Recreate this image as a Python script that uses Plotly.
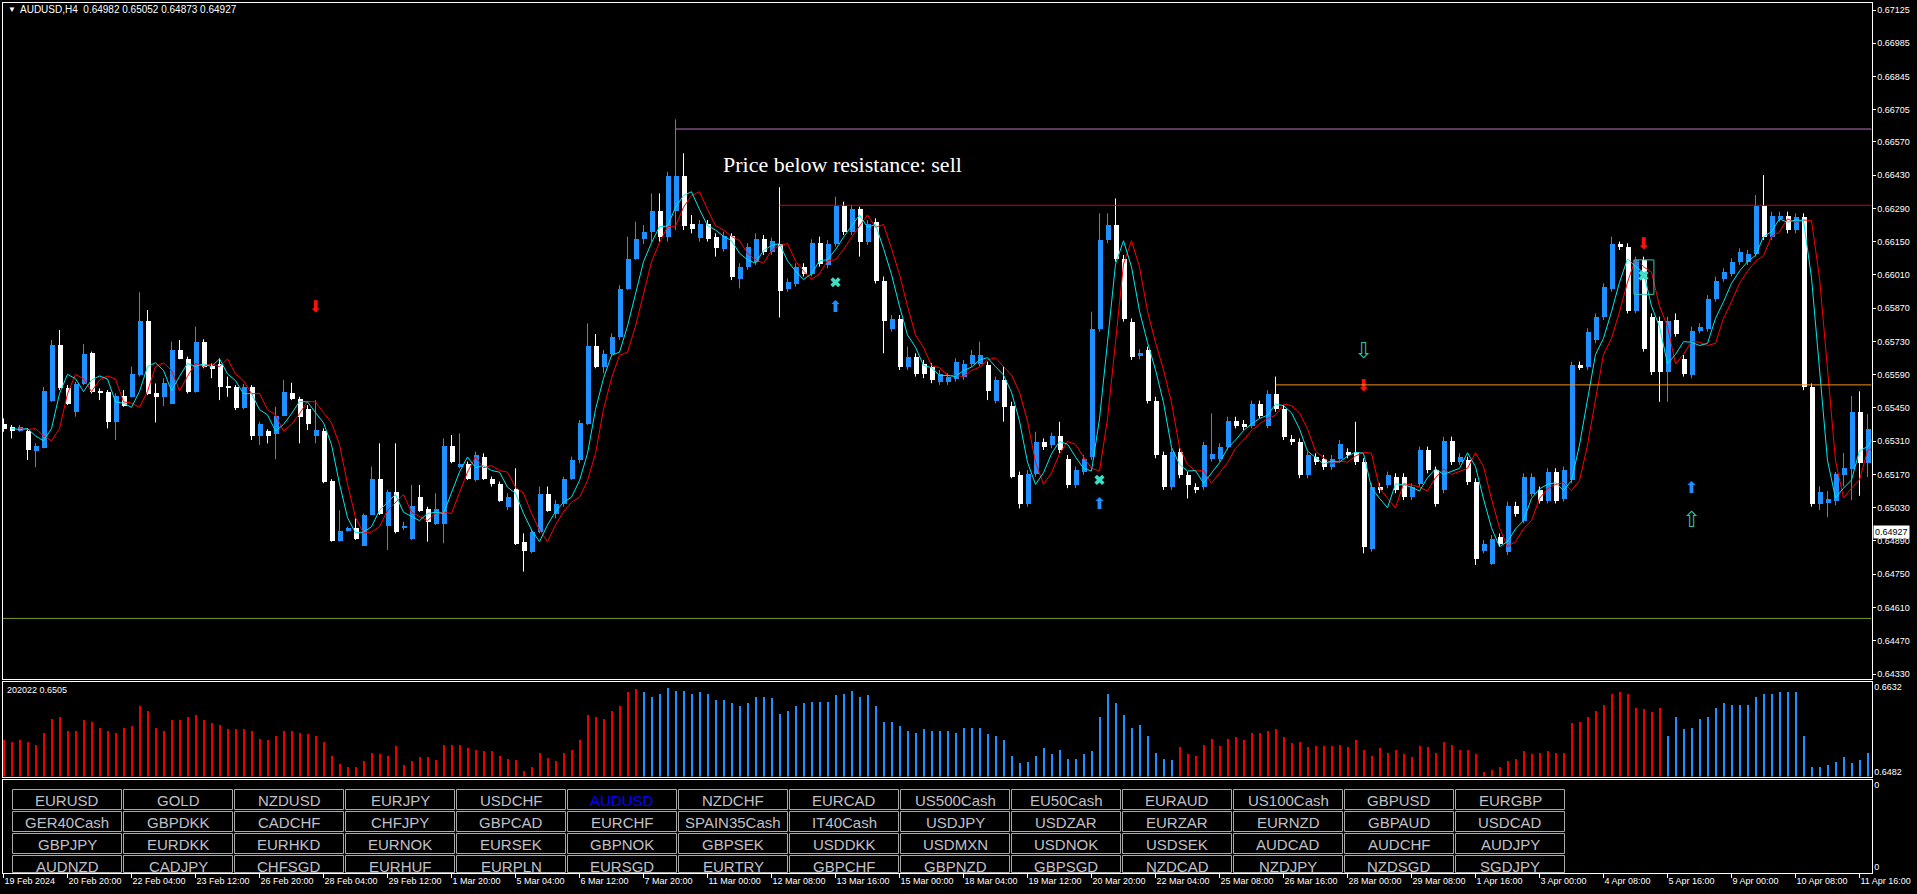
import numpy as np
import pandas as pd
import plotly.graph_objects as go

# ---------------- DATA ----------------
symbol_title = "AUDUSD,H4"
header_ohlc = ["0.64982", "0.65052", "0.64873", "0.64927"]
last_price = 0.64927
indicator_title = "202022 0.6505"

opens = [
    0.65385, 0.65371, 0.65354, 0.65357, 0.65270, 0.65284, 0.65483, 0.65715, 0.65537, 0.65434,
    0.65553, 0.65683, 0.65525, 0.65521, 0.65392, 0.65504, 0.65500, 0.65591, 0.65816, 0.65514,
    0.65497, 0.65469, 0.65697, 0.65659, 0.65518, 0.65729, 0.65627, 0.65638, 0.65545, 0.65542,
    0.65451, 0.65542, 0.65336, 0.65354, 0.65343, 0.65420, 0.65514, 0.65490, 0.65448, 0.65336,
    0.65357, 0.65143, 0.64890, 0.64933, 0.64946, 0.64873, 0.65002, 0.65154, 0.64957, 0.65098,
    0.64950, 0.64901, 0.65077, 0.65027, 0.64964, 0.64964, 0.65290, 0.65203, 0.65217, 0.65147,
    0.65245, 0.65154, 0.65133, 0.65034, 0.65112, 0.64887, 0.64845, 0.64929, 0.65091, 0.65006,
    0.65048, 0.65154, 0.65231, 0.65385, 0.65711, 0.65624, 0.65680, 0.65750, 0.65953, 0.66080,
    0.66164, 0.66192, 0.66283, 0.66171, 0.66280, 0.66430, 0.66227, 0.66167, 0.66227, 0.66171,
    0.66122, 0.66174, 0.65995, 0.66045, 0.66066, 0.66164, 0.66108, 0.66143, 0.65953, 0.65974,
    0.66045, 0.66017, 0.66146, 0.66052, 0.66143, 0.66304, 0.66192, 0.66290, 0.66150, 0.66234,
    0.65988, 0.65785, 0.65827, 0.65624, 0.65666, 0.65638, 0.65624, 0.65561, 0.65561, 0.65575,
    0.65582, 0.65638, 0.65638, 0.65631, 0.65483, 0.65568, 0.65462, 0.65168, 0.65048, 0.65175,
    0.65308, 0.65294, 0.65332, 0.65238, 0.65126, 0.65182, 0.65245, 0.65785, 0.66157, 0.66224,
    0.66080, 0.65813, 0.65669, 0.65694, 0.65483, 0.65252, 0.65119, 0.65266, 0.65168, 0.65119,
    0.65119, 0.65238, 0.65238, 0.65287, 0.65399, 0.65385, 0.65378, 0.65467, 0.65378, 0.65511,
    0.65448, 0.65322, 0.65308, 0.65168, 0.65245, 0.65238, 0.65203, 0.65238, 0.65266, 0.65266,
    0.65224, 0.64859, 0.65119, 0.65126, 0.65161, 0.65161, 0.65077, 0.65133, 0.65273, 0.65189,
    0.65105, 0.65315, 0.65224, 0.65231, 0.65140, 0.64852, 0.64796, 0.64908, 0.64845, 0.65041,
    0.64978, 0.65091, 0.65105, 0.65062, 0.65182, 0.65069, 0.65147, 0.65631, 0.65624, 0.65736,
    0.65834, 0.65953, 0.66143, 0.66129, 0.65862, 0.66073, 0.65834, 0.65820, 0.65603, 0.65823,
    0.65659, 0.65589, 0.65778, 0.65785, 0.65911, 0.65995, 0.66017, 0.66066, 0.66066, 0.66101,
    0.66304, 0.66171, 0.66248, 0.66262, 0.66199, 0.66255, 0.65539, 0.65048, 0.65050, 0.65062,
    0.65168, 0.65197, 0.65437, 0.65222,
]
highs = [
    0.65406, 0.65378, 0.65378, 0.65364, 0.65301, 0.65539, 0.65736, 0.65778, 0.65546, 0.65560,
    0.65719, 0.65687, 0.65532, 0.65525, 0.65511, 0.65525, 0.65624, 0.65937, 0.65862, 0.65553,
    0.65575, 0.65729, 0.65736, 0.65666, 0.65792, 0.65739, 0.65638, 0.65659, 0.65582, 0.65546,
    0.65551, 0.65546, 0.65392, 0.65360, 0.65455, 0.65568, 0.65556, 0.65497, 0.65462, 0.65483,
    0.65364, 0.65150, 0.65020, 0.64950, 0.64985, 0.65006, 0.65203, 0.65301, 0.65105, 0.65301,
    0.64971, 0.65126, 0.65126, 0.65034, 0.65091, 0.65322, 0.65336, 0.65343, 0.65224, 0.65266,
    0.65259, 0.65161, 0.65140, 0.65091, 0.65196, 0.64922, 0.64936, 0.65119, 0.65119, 0.65062,
    0.65161, 0.65245, 0.65399, 0.65806, 0.65761, 0.65694, 0.65764, 0.65967, 0.66171, 0.66234,
    0.66220, 0.66353, 0.66353, 0.66444, 0.66665, 0.66522, 0.66262, 0.66241, 0.66241, 0.66185,
    0.66192, 0.66185, 0.66059, 0.66143, 0.66185, 0.66178, 0.66167, 0.66379, 0.65995, 0.66059,
    0.66059, 0.66160, 0.66171, 0.66157, 0.66339, 0.66318, 0.66304, 0.66297, 0.66241, 0.66248,
    0.66003, 0.65841, 0.65841, 0.65708, 0.65680, 0.65652, 0.65638, 0.65610, 0.65596, 0.65659,
    0.65652, 0.65694, 0.65729, 0.65645, 0.65582, 0.65624, 0.65476, 0.65182, 0.65189, 0.65350,
    0.65322, 0.65346, 0.65392, 0.65252, 0.65203, 0.65252, 0.65855, 0.66269, 0.66269, 0.66332,
    0.66094, 0.65827, 0.65697, 0.65708, 0.65497, 0.65266, 0.65280, 0.65280, 0.65182, 0.65133,
    0.65308, 0.65427, 0.65301, 0.65413, 0.65413, 0.65399, 0.65481, 0.65481, 0.65525, 0.65582,
    0.65462, 0.65336, 0.65322, 0.65266, 0.65259, 0.65252, 0.65252, 0.65315, 0.65280, 0.65392,
    0.65238, 0.65133, 0.65133, 0.65182, 0.65175, 0.65175, 0.65133, 0.65287, 0.65287, 0.65203,
    0.65329, 0.65329, 0.65259, 0.65245, 0.65154, 0.64894, 0.64915, 0.64922, 0.65055, 0.65055,
    0.65175, 0.65175, 0.65119, 0.65196, 0.65196, 0.65203, 0.65645, 0.65645, 0.65785, 0.65848,
    0.65974, 0.66171, 0.66150, 0.66143, 0.66087, 0.66087, 0.65848, 0.65834, 0.65834, 0.65848,
    0.65673, 0.65792, 0.65806, 0.65925, 0.66003, 0.66038, 0.66080, 0.66122, 0.66115, 0.66346,
    0.66430, 0.66276, 0.66276, 0.66276, 0.66269, 0.66269, 0.65553, 0.65120, 0.65100, 0.65180,
    0.65260, 0.65500, 0.65520, 0.65424,
]
lows = [
    0.65350, 0.65322, 0.65350, 0.65231, 0.65200, 0.65280, 0.65476, 0.65525, 0.65462, 0.65413,
    0.65546, 0.65511, 0.65483, 0.65364, 0.65315, 0.65455, 0.65494, 0.65582, 0.65504, 0.65389,
    0.65458, 0.65466, 0.65655, 0.65511, 0.65514, 0.65617, 0.65575, 0.65483, 0.65497, 0.65441,
    0.65444, 0.65315, 0.65294, 0.65301, 0.65234, 0.65416, 0.65483, 0.65301, 0.65357, 0.65301,
    0.65133, 0.64887, 0.64887, 0.64929, 0.64894, 0.64869, 0.64999, 0.64999, 0.64852, 0.64922,
    0.64936, 0.64894, 0.65013, 0.64887, 0.64957, 0.64880, 0.65217, 0.65196, 0.65147, 0.65140,
    0.65147, 0.65119, 0.65055, 0.65020, 0.64873, 0.64761, 0.64838, 0.64922, 0.65013, 0.64985,
    0.65034, 0.65147, 0.65217, 0.65378, 0.65617, 0.65596, 0.65666, 0.65736, 0.65946, 0.66073,
    0.66140, 0.66150, 0.66150, 0.66150, 0.66199, 0.66199, 0.66185, 0.66150, 0.66150, 0.66087,
    0.66108, 0.65988, 0.65953, 0.66031, 0.66052, 0.66094, 0.66094, 0.65831, 0.65939, 0.65960,
    0.66003, 0.66003, 0.66045, 0.66038, 0.66129, 0.66178, 0.66178, 0.66087, 0.66136, 0.65974,
    0.65680, 0.65771, 0.65610, 0.65610, 0.65582, 0.65575, 0.65554, 0.65547, 0.65547, 0.65561,
    0.65568, 0.65624, 0.65624, 0.65483, 0.65469, 0.65392, 0.65154, 0.65027, 0.65034, 0.65161,
    0.65273, 0.65280, 0.65259, 0.65112, 0.65112, 0.65168, 0.65231, 0.65771, 0.66143, 0.66066,
    0.65813, 0.65652, 0.65655, 0.65469, 0.65238, 0.65105, 0.65105, 0.65154, 0.65069, 0.65091,
    0.65105, 0.65224, 0.65224, 0.65273, 0.65364, 0.65357, 0.65364, 0.65406, 0.65364, 0.65434,
    0.65315, 0.65294, 0.65154, 0.65154, 0.65210, 0.65189, 0.65189, 0.65224, 0.65238, 0.65210,
    0.64838, 0.64845, 0.65091, 0.65112, 0.65091, 0.65062, 0.65062, 0.65119, 0.65175, 0.65034,
    0.65091, 0.65210, 0.65210, 0.65126, 0.64789, 0.64838, 0.64789, 0.64866, 0.64831, 0.64992,
    0.64964, 0.65077, 0.65048, 0.65048, 0.65048, 0.65055, 0.65133, 0.65610, 0.65610, 0.65722,
    0.65820, 0.65939, 0.66115, 0.65848, 0.65848, 0.65687, 0.65589, 0.65476, 0.65476, 0.65750,
    0.65582, 0.65575, 0.65764, 0.65771, 0.65897, 0.65981, 0.66003, 0.66052, 0.66052, 0.66087,
    0.66157, 0.66157, 0.66234, 0.66185, 0.66185, 0.65525, 0.65034, 0.65020, 0.64990, 0.65040,
    0.65120, 0.65062, 0.65080, 0.65159,
]
closes = [
    0.65364, 0.65354, 0.65371, 0.65273, 0.65290, 0.65525, 0.65715, 0.65535, 0.65469, 0.65553,
    0.65680, 0.65521, 0.65514, 0.65392, 0.65504, 0.65462, 0.65593, 0.65816, 0.65511, 0.65497,
    0.65556, 0.65697, 0.65659, 0.65518, 0.65729, 0.65624, 0.65617, 0.65539, 0.65539, 0.65451,
    0.65542, 0.65336, 0.65385, 0.65336, 0.65420, 0.65521, 0.65490, 0.65416, 0.65385, 0.65361,
    0.65140, 0.64890, 0.64936, 0.64946, 0.64901, 0.65002, 0.65154, 0.65006, 0.65098, 0.64929,
    0.64957, 0.65041, 0.65020, 0.64971, 0.65027, 0.65290, 0.65224, 0.65217, 0.65154, 0.65252,
    0.65154, 0.65133, 0.65062, 0.65077, 0.64880, 0.64852, 0.64929, 0.65091, 0.65020, 0.65048,
    0.65154, 0.65231, 0.65389, 0.65711, 0.65624, 0.65680, 0.65750, 0.65953, 0.66080, 0.66164,
    0.66192, 0.66283, 0.66171, 0.66430, 0.66430, 0.66220, 0.66206, 0.66227, 0.66164, 0.66126,
    0.66174, 0.66003, 0.66045, 0.66129, 0.66164, 0.66108, 0.66153, 0.65946, 0.65981, 0.66045,
    0.66017, 0.66146, 0.66059, 0.66143, 0.66304, 0.66192, 0.66290, 0.66150, 0.66227, 0.65988,
    0.65820, 0.65827, 0.65624, 0.65666, 0.65596, 0.65596, 0.65568, 0.65596, 0.65582, 0.65645,
    0.65638, 0.65673, 0.65673, 0.65525, 0.65568, 0.65455, 0.65161, 0.65048, 0.65175, 0.65308,
    0.65287, 0.65332, 0.65273, 0.65126, 0.65189, 0.65238, 0.65785, 0.66157, 0.66224, 0.66080,
    0.65827, 0.65666, 0.65683, 0.65483, 0.65252, 0.65119, 0.65266, 0.65168, 0.65126, 0.65105,
    0.65294, 0.65259, 0.65287, 0.65399, 0.65378, 0.65371, 0.65467, 0.65420, 0.65511, 0.65448,
    0.65329, 0.65308, 0.65168, 0.65252, 0.65224, 0.65203, 0.65238, 0.65301, 0.65252, 0.65224,
    0.64866, 0.65119, 0.65105, 0.65168, 0.65105, 0.65077, 0.65119, 0.65273, 0.65189, 0.65048,
    0.65315, 0.65224, 0.65245, 0.65140, 0.64817, 0.64880, 0.64901, 0.64880, 0.65041, 0.65006,
    0.65161, 0.65161, 0.65062, 0.65182, 0.65062, 0.65189, 0.65631, 0.65624, 0.65771, 0.65834,
    0.65960, 0.66143, 0.66129, 0.65862, 0.66073, 0.65701, 0.65603, 0.65603, 0.65820, 0.65764,
    0.65596, 0.65778, 0.65792, 0.65911, 0.65988, 0.66024, 0.66066, 0.66108, 0.66101, 0.66304,
    0.66171, 0.66262, 0.66262, 0.66199, 0.66255, 0.65539, 0.65048, 0.65098, 0.65067, 0.65172,
    0.65201, 0.65437, 0.65222, 0.65362,
]

# sub-window histogram values and trend colour runs
hist_values = [
    0.65385, 0.65367, 0.65385, 0.65367, 0.65297, 0.65526, 0.65761, 0.65808, 0.65544, 0.65561,
    0.65738, 0.65703, 0.65597, 0.65561, 0.65509, 0.65597, 0.65632, 0.65985, 0.65897, 0.65614,
    0.65561, 0.65738, 0.65755, 0.65808, 0.65826, 0.65755, 0.65685, 0.65667, 0.65579, 0.65579,
    0.65579, 0.65544, 0.65403, 0.65385, 0.65456, 0.65561, 0.65561, 0.65509, 0.65491, 0.65473,
    0.65350, 0.65120, 0.64962, 0.64926, 0.64926, 0.65015, 0.65173, 0.65138, 0.65103, 0.65279,
    0.64944, 0.65015, 0.65085, 0.65085, 0.65032, 0.65297, 0.65297, 0.65314, 0.65244, 0.65226,
    0.65191, 0.65191, 0.65103, 0.65050, 0.65032, 0.64838, 0.64909, 0.65156, 0.65068, 0.65015,
    0.65156, 0.65209, 0.65385, 0.65826, 0.65791, 0.65773, 0.65914, 0.66002, 0.66232, 0.66302,
    0.66232, 0.66144, 0.66197, 0.66320, 0.66267, 0.66267, 0.66214, 0.66232, 0.66214, 0.66108,
    0.66108, 0.66038, 0.66002, 0.66055, 0.66144, 0.66144, 0.66126, 0.65861, 0.65897, 0.66002,
    0.66038, 0.66073, 0.66073, 0.66073, 0.66179, 0.66214, 0.66267, 0.66144, 0.66179, 0.66002,
    0.65703, 0.65703, 0.65632, 0.65561, 0.65509, 0.65579, 0.65544, 0.65544, 0.65544, 0.65526,
    0.65614, 0.65597, 0.65614, 0.65491, 0.65473, 0.65385, 0.65103, 0.64979, 0.64997, 0.65120,
    0.65244, 0.65138, 0.65209, 0.65050, 0.65050, 0.65138, 0.65191, 0.65808, 0.66197, 0.66055,
    0.65826, 0.65597, 0.65650, 0.65473, 0.65173, 0.65050, 0.65032, 0.65262, 0.65138, 0.65103,
    0.65297, 0.65420, 0.65279, 0.65420, 0.65438, 0.65385, 0.65526, 0.65509, 0.65544, 0.65579,
    0.65438, 0.65332, 0.65350, 0.65262, 0.65279, 0.65279, 0.65279, 0.65314, 0.65262, 0.65385,
    0.65226, 0.65103, 0.65244, 0.65173, 0.65209, 0.65138, 0.65085, 0.65279, 0.65262, 0.65173,
    0.65350, 0.65314, 0.65226, 0.65226, 0.65138, 0.64821, 0.64856, 0.64909, 0.65015, 0.65050,
    0.65191, 0.65138, 0.65173, 0.65191, 0.65156, 0.65156, 0.65685, 0.65703, 0.65791, 0.65897,
    0.66020, 0.66214, 0.66249, 0.66214, 0.65950, 0.65932, 0.65879, 0.65950, 0.65473, 0.65791,
    0.65579, 0.65597, 0.65773, 0.65791, 0.65950, 0.66038, 0.66020, 0.66020, 0.66020, 0.66144,
    0.66214, 0.66214, 0.66232, 0.66232, 0.66249, 0.65456, 0.64909, 0.64909, 0.64944, 0.64997,
    0.65085, 0.64979, 0.65032, 0.65156,
]
hist_trend_runs = [("down", 80), ("up", 67), ("down", 61), ("up", 26)]
hist_scale_labels = ["0.6632", "0.6482"]

# horizontal levels drawn on the chart
level_prices = [0.66624, 0.66303, 0.65547, 0.64564]
level_start_bars = [84, 97, 159, 0]

# signal objects
sell_arrow_bars = [39, 170, 205]
sell_arrow_prices = [0.65870, 0.65537, 0.66136]
buy_arrow_bars = [104, 137, 211]
buy_arrow_prices = [0.65869, 0.65041, 0.65107]
cross_bars = [104, 137, 205]
cross_prices = [0.65979, 0.65147, 0.66007]
hollow_down_bars = [170]
hollow_down_prices = [0.65683]
hollow_up_bars = [211]
hollow_up_prices = [0.64971]
box_bars = [203.8, 206.3]
box_prices = [0.65928, 0.66073]
signal_text = "Price below resistance: sell"
signal_text_bar = 89.7
signal_text_price = 0.66473

# axes labels
price_tick_labels = ["0.67125", "0.66985", "0.66845", "0.66705", "0.66570", "0.66430", "0.66290",
                     "0.66150", "0.66010", "0.65870", "0.65730", "0.65590", "0.65450", "0.65310",
                     "0.65170", "0.65030", "0.64890", "0.64750", "0.64610", "0.64470", "0.64330"]
date_labels = ["19 Feb 2024", "20 Feb 20:00", "22 Feb 04:00", "23 Feb 12:00", "26 Feb 20:00",
               "28 Feb 04:00", "29 Feb 12:00", "1 Mar 20:00", "5 Mar 04:00", "6 Mar 12:00",
               "7 Mar 20:00", "11 Mar 00:00", "12 Mar 08:00", "13 Mar 16:00", "15 Mar 00:00",
               "18 Mar 04:00", "19 Mar 12:00", "20 Mar 20:00", "22 Mar 04:00", "25 Mar 08:00",
               "26 Mar 16:00", "28 Mar 00:00", "29 Mar 08:00", "1 Apr 16:00", "3 Apr 00:00",
               "4 Apr 08:00", "5 Apr 16:00", "9 Apr 00:00", "10 Apr 08:00", "11 Apr 16:00"]
bars_per_date_label = 8

symbol_rows = [
    ["EURUSD", "GOLD", "NZDUSD", "EURJPY", "USDCHF", "AUDUSD", "NZDCHF", "EURCAD", "US500Cash",
     "EU50Cash", "EURAUD", "US100Cash", "GBPUSD", "EURGBP"],
    ["GER40Cash", "GBPDKK", "CADCHF", "CHFJPY", "GBPCAD", "EURCHF", "SPAIN35Cash", "IT40Cash",
     "USDJPY", "USDZAR", "EURZAR", "EURNZD", "GBPAUD", "USDCAD"],
    ["GBPJPY", "EURDKK", "EURHKD", "EURNOK", "EURSEK", "GBPNOK", "GBPSEK", "USDDKK", "USDMXN",
     "USDNOK", "USDSEK", "AUDCAD", "AUDCHF", "AUDJPY"],
    ["AUDNZD", "CADJPY", "CHFSGD", "EURHUF", "EURPLN", "EURSGD", "EURTRY", "GBPCHF", "GBPNZD",
     "GBPSGD", "NZDCAD", "NZDJPY", "NZDSGD", "SGDJPY"],
]
active_symbol = "AUDUSD"

# ---------------- STYLE / LAYOUT ----------------
W, H = 1917, 894
FONT = "Liberation Sans, Arial, sans-serif"
BULL = "#1e90ff"
BEAR = "#ffffff"
CYAN = "#00e8e8"
RED = "#ff0000"
HIST_UP = "#1e90ff"
HIST_DOWN = "#e80000"
level_colors = ["#c070c0", "#e00000", "#f0901c", "#7a9a2a"]


def px(x):
    return x / W


def py(y):
    return 1 - y / H


X_LEFT, X_RIGHT = 2.5, 1871.5
X_MIN = -0.125
X_MAX = X_MIN + (X_RIGHT - X_LEFT) / 8.0
MAIN_TOP, MAIN_BOT = 2.5, 678.5
IND_TOP, IND_BOT = 681.5, 776.5
BTN_TOP, BTN_BOT = 779.5, 872.5
PX_PER_PRICE = 23757.0
main_range = [0.67125 - (MAIN_BOT - 10) / PX_PER_PRICE, 0.67125 + (10 - MAIN_TOP) / PX_PER_PRICE]
IND_PX = 5667.0
ind_range = [0.6632 - (IND_BOT - 687) / IND_PX, 0.6632 + (687 - IND_TOP) / IND_PX]

o = np.array(opens)
h = np.array(highs)
l = np.array(lows)
c = np.array(closes)
n = len(c)
bars = np.arange(n)
bull = c >= o

fig = go.Figure()

# wicks
for mask, col in [(bull, BULL), (~bull, BEAR)]:
    xs, ys = [], []
    for i in bars[mask]:
        xs += [i, i, None]
        ys += [l[i], h[i], None]
    fig.add_trace(go.Scatter(x=xs, y=ys, mode="lines", line=dict(color=col, width=1),
                             hoverinfo="skip", showlegend=False, xaxis="x", yaxis="y"))
# bodies
for mask, col in [(bull, BULL), (~bull, BEAR)]:
    base = np.minimum(o, c)[mask]
    height = np.maximum(np.abs(c - o)[mask], 0.00004)
    fig.add_trace(go.Bar(x=bars[mask], y=height, base=base, width=0.625,
                         marker=dict(color=col, line=dict(width=0)),
                         hoverinfo="skip", showlegend=False, xaxis="x", yaxis="y"))

# moving averages (3-bar SMA of close, shifted 1 and 2 bars)
sma3 = pd.Series(c).rolling(3, min_periods=1).mean().to_numpy()
fig.add_trace(go.Scatter(x=bars + 2, y=sma3, mode="lines", line=dict(color=RED, width=1),
                         hoverinfo="skip", showlegend=False, xaxis="x", yaxis="y"))
fig.add_trace(go.Scatter(x=bars + 1, y=sma3, mode="lines", line=dict(color=CYAN, width=1),
                         hoverinfo="skip", showlegend=False, xaxis="x", yaxis="y"))

# levels
shapes = []
for price, start, col in zip(level_prices, level_start_bars, level_colors):
    shapes.append(dict(type="line", xref="x", yref="y", x0=start if start > 0 else X_MIN,
                       x1=X_MAX, y0=price, y1=price, line=dict(color=col, width=1)))
shapes.append(dict(type="rect", xref="x", yref="y", x0=box_bars[0], x1=box_bars[1],
                   y0=box_prices[0], y1=box_prices[1], line=dict(color="#30c8b8", width=1)))

# signals
fig.add_trace(go.Scatter(x=sell_arrow_bars, y=sell_arrow_prices, mode="text", text=["⬇"] * len(sell_arrow_bars),
                         textfont=dict(color="#ff1010", size=16, family="DejaVu Sans"),
                         hoverinfo="skip", showlegend=False, xaxis="x", yaxis="y"))
fig.add_trace(go.Scatter(x=buy_arrow_bars, y=buy_arrow_prices, mode="text", text=["⬆"] * len(buy_arrow_bars),
                         textfont=dict(color="#1e90ff", size=16, family="DejaVu Sans"),
                         hoverinfo="skip", showlegend=False, xaxis="x", yaxis="y"))
fig.add_trace(go.Scatter(x=hollow_down_bars, y=hollow_down_prices, mode="text", text=["⇩"],
                         textfont=dict(color="#30c0a0", size=22, family="DejaVu Sans"),
                         hoverinfo="skip", showlegend=False, xaxis="x", yaxis="y"))
fig.add_trace(go.Scatter(x=hollow_up_bars, y=hollow_up_prices, mode="text", text=["⇧"],
                         textfont=dict(color="#30c0a0", size=22, family="DejaVu Sans"),
                         hoverinfo="skip", showlegend=False, xaxis="x", yaxis="y"))
fig.add_trace(go.Scatter(x=cross_bars, y=cross_prices, mode="markers",
                         marker=dict(symbol="x", size=9, color="#40dcc4", line=dict(width=0)),
                         hoverinfo="skip", showlegend=False, xaxis="x", yaxis="y"))

# histogram sub-window
trend = []
for state, count in hist_trend_runs:
    trend += [state] * count
trend = np.array(trend)
hv = np.array(hist_values)
for state, col in [("down", HIST_DOWN), ("up", HIST_UP)]:
    m = trend == state
    fig.add_trace(go.Bar(x=bars[m], y=hv[m] - ind_range[0], base=ind_range[0], width=0.125,
                         marker=dict(color=col, line=dict(width=0)),
                         hoverinfo="skip", showlegend=False, xaxis="x2", yaxis="y2"))

# dummy trace for the button panel so its axes render
fig.add_trace(go.Scatter(x=[None], y=[None], mode="markers", showlegend=False, xaxis="x3", yaxis="y3"))

annotations = []
# header
annotations.append(dict(xref="paper", yref="paper", x=px(6), y=py(10), text="▼", showarrow=False,
                        xanchor="left", yanchor="middle", font=dict(family=FONT, size=8, color="white")))
annotations.append(dict(xref="paper", yref="paper", x=px(18), y=py(10),
                        text=symbol_title + "\u00a0\u00a0" + "\u00a0".join(header_ohlc), showarrow=False,
                        xanchor="left", yanchor="middle", font=dict(family=FONT, size=10, color="white")))
annotations.append(dict(xref="paper", yref="paper", x=px(5), y=py(690), text=indicator_title, showarrow=False,
                        xanchor="left", yanchor="middle", font=dict(family=FONT, size=9, color="white")))
# signal text
annotations.append(dict(xref="x", yref="y", x=signal_text_bar, y=signal_text_price, text=signal_text,
                        showarrow=False, xanchor="left", yanchor="middle",
                        font=dict(family="Liberation Serif, Times New Roman, serif", size=22, color="white")))
# current price label
annotations.append(dict(xref="paper", yref="y", x=px(1873), y=last_price, text=f"{last_price:.5f}",
                        showarrow=False, xanchor="left", yanchor="middle", bgcolor="white",
                        borderpad=1, font=dict(family=FONT, size=9, color="black")))

# buttons
BTN_LEFT0, BTN_PITCH_X, BTN_W = 12.5, 111, 109
BTN_TOP0, BTN_PITCH_Y, BTN_H = 789.5, 22, 20
for r, row in enumerate(symbol_rows):
    for ci, name in enumerate(row):
        x0 = BTN_LEFT0 + BTN_PITCH_X * ci
        y0 = BTN_TOP0 + BTN_PITCH_Y * r
        y1 = min(y0 + BTN_H, BTN_BOT)
        shapes.append(dict(type="rect", xref="paper", yref="paper", x0=px(x0), x1=px(x0 + BTN_W),
                           y0=py(y1), y1=py(y0), line=dict(color="#a8a8a8", width=1), fillcolor="black"))
        annotations.append(dict(xref="paper", yref="paper", x=px(x0 + BTN_W / 2), y=py(y0 + 10.5),
                                text=name, showarrow=False, xanchor="center", yanchor="middle",
                                font=dict(family=FONT, size=15,
                                          color="#0000ff" if name == active_symbol else "#c0c0c8")))

axis_common = dict(showgrid=False, zeroline=False, showline=True, mirror=True, linecolor="white",
                   linewidth=1, automargin=False)
xd = [px(X_LEFT), px(X_RIGHT)]
fig.update_layout(
    width=W, height=H, autosize=False,
    margin=dict(l=0, r=0, t=0, b=0, pad=0, autoexpand=False),
    paper_bgcolor="black", plot_bgcolor="black",
    barmode="overlay", bargap=0,
    showlegend=False,
    xaxis=dict(domain=xd, range=[X_MIN, X_MAX], anchor="y", showticklabels=False, ticks="", **axis_common),
    xaxis2=dict(domain=xd, range=[X_MIN, X_MAX], anchor="y2", matches="x", showticklabels=False, ticks="",
                **axis_common),
    xaxis3=dict(domain=xd, range=[X_MIN, X_MAX], anchor="y3", matches="x",
                tickmode="array", tickvals=[k * bars_per_date_label for k in range(len(date_labels))],
                ticktext=date_labels, ticks="outside", ticklen=4, tickcolor="white",
                ticklabelposition="outside right",
                tickfont=dict(family=FONT, size=9, color="white"), **axis_common),
    yaxis=dict(domain=[py(MAIN_BOT), py(MAIN_TOP)], range=main_range, anchor="x", side="right",
               tickmode="array", tickvals=[float(t) for t in price_tick_labels], ticktext=price_tick_labels,
               ticks="outside", ticklen=3, tickcolor="white",
               tickfont=dict(family=FONT, size=9, color="white"), **axis_common),
    yaxis2=dict(domain=[py(IND_BOT), py(IND_TOP)], range=ind_range, anchor="x2", side="right",
                tickmode="array", tickvals=[float(t) for t in hist_scale_labels], ticktext=hist_scale_labels,
                ticks="", tickfont=dict(family=FONT, size=9, color="white"), **axis_common),
    yaxis3=dict(domain=[py(BTN_BOT), py(BTN_TOP)], range=[0, 1], anchor="x3", side="right",
                tickmode="array", tickvals=[0.06, 0.94], ticktext=["0", "0"], ticks="",
                tickfont=dict(family=FONT, size=9, color="white"), **axis_common),
    shapes=shapes,
    annotations=annotations,
)

fig.write_html(
    "out.html",
    config={"displayModeBar": False},
    post_script="document.body.style.margin='0';document.body.style.background='black';",
)
